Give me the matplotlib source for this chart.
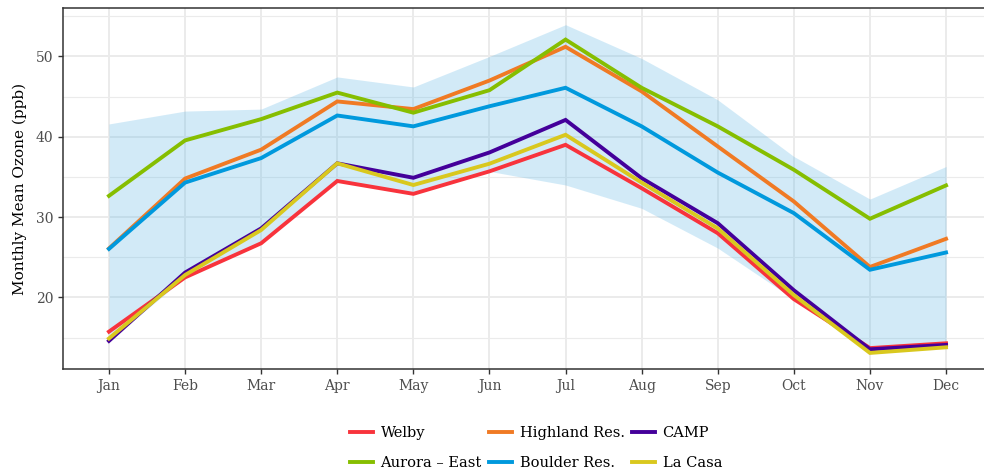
import numpy as np
import matplotlib
matplotlib.use('Agg')
import matplotlib.pyplot as plt
from matplotlib.ticker import MultipleLocator

plt.rcParams['font.family'] = ['DejaVu Serif']

months = ['Jan', 'Feb', 'Mar', 'Apr', 'May', 'Jun', 'Jul', 'Aug', 'Sep', 'Oct', 'Nov', 'Dec']

# shaded range
band_low = [14.6, 22.5, 26.75, 34.5, 32.9, 35.7, 34.0, 31.1, 26.15, 19.8, 13.1, 13.8]
band_high = [41.6, 43.2, 43.45, 47.45, 46.2, 50.0, 53.95, 49.75, 44.6, 37.55, 32.25, 36.3]

welby = [15.75, 22.5, 26.75, 34.5, 32.9, 35.7, 39.0, 33.6, 28.0, 19.8, 13.7, 14.3]
highland = [26.1, 34.8, 38.4, 44.4, 43.45, 47.0, 51.2, 45.65, 38.8, 31.95, 23.8, 27.3]
camp = [14.6, 23.1, 28.6, 36.7, 34.9, 38.05, 42.1, 34.85, 29.25, 20.9, 13.55, 14.1]
aurora = [32.65, 39.55, 42.2, 45.5, 43.0, 45.8, 52.1, 46.1, 41.3, 35.9, 29.8, 33.95]
boulder = [26.05, 34.3, 37.35, 42.65, 41.3, 43.8, 46.1, 41.3, 35.55, 30.5, 23.45, 25.6]
lacasa = [14.9, 22.8, 28.4, 36.7, 34.0, 36.65, 40.25, 34.3, 28.6, 20.3, 13.1, 13.8]

series = [
    ('Welby', welby, '#F8333C'),
    ('Highland Res.', highland, '#F07A24'),
    ('CAMP', camp, '#44009A'),
    ('Aurora – East', aurora, '#86BE00'),
    ('Boulder Res.', boulder, '#0099DD'),
    ('La Casa', lacasa, '#D9C81E'),
]

x = np.arange(len(months))

fig = plt.figure(figsize=(9.84, 4.75), dpi=100)
ax = fig.add_axes([63 / 984, 106 / 475, (991.7 - 63) / 984, (369 - 8) / 475])

ax.set_axisbelow(True)
ax.yaxis.set_minor_locator(MultipleLocator(5))
ax.grid(which='major', color='#EBEBEB', linewidth=1.4)
ax.grid(which='minor', axis='y', color='#EBEBEB', linewidth=0.8)

ax.fill_between(x, band_low, band_high, color='#5AB4E5', alpha=0.27, linewidth=0, zorder=2)

lines = {}
for name, vals, col in series:
    ln, = ax.plot(x, vals, color=col, linewidth=2.8, solid_joinstyle='miter', zorder=3, label=name)
    lines[name] = ln

ax.set_xlim(-0.604, 11.6)
ax.set_ylim(11.1, 56.03)
ax.set_xticks(x)
ax.set_xticklabels(months)
ax.set_yticks([20, 30, 40, 50])
ax.tick_params(which='major', length=3.5, width=1, color='#333333', labelcolor='#4D4D4D', labelsize=10)
ax.tick_params(which='minor', length=0)
ax.set_ylabel('Monthly Mean Ozone (ppb)', fontsize=11, color='black', labelpad=6)

for s in ['left', 'top', 'bottom']:
    ax.spines[s].set_color('#333333')
    ax.spines[s].set_linewidth(1.1)
ax.spines['right'].set_visible(False)

# legend is filled row by row in the original
order = ['Welby', 'Aurora – East', 'Highland Res.', 'Boulder Res.', 'CAMP', 'La Casa']
leg = fig.legend([lines[n] for n in order], order, loc='center', ncol=3,
                 bbox_to_anchor=(536 / 984, 1 - 448 / 475), frameon=False,
                 fontsize=10.5, handlelength=1.6, handletextpad=0.5,
                 columnspacing=0.5, labelspacing=1.1)

fig.savefig('out.png', dpi=100)
